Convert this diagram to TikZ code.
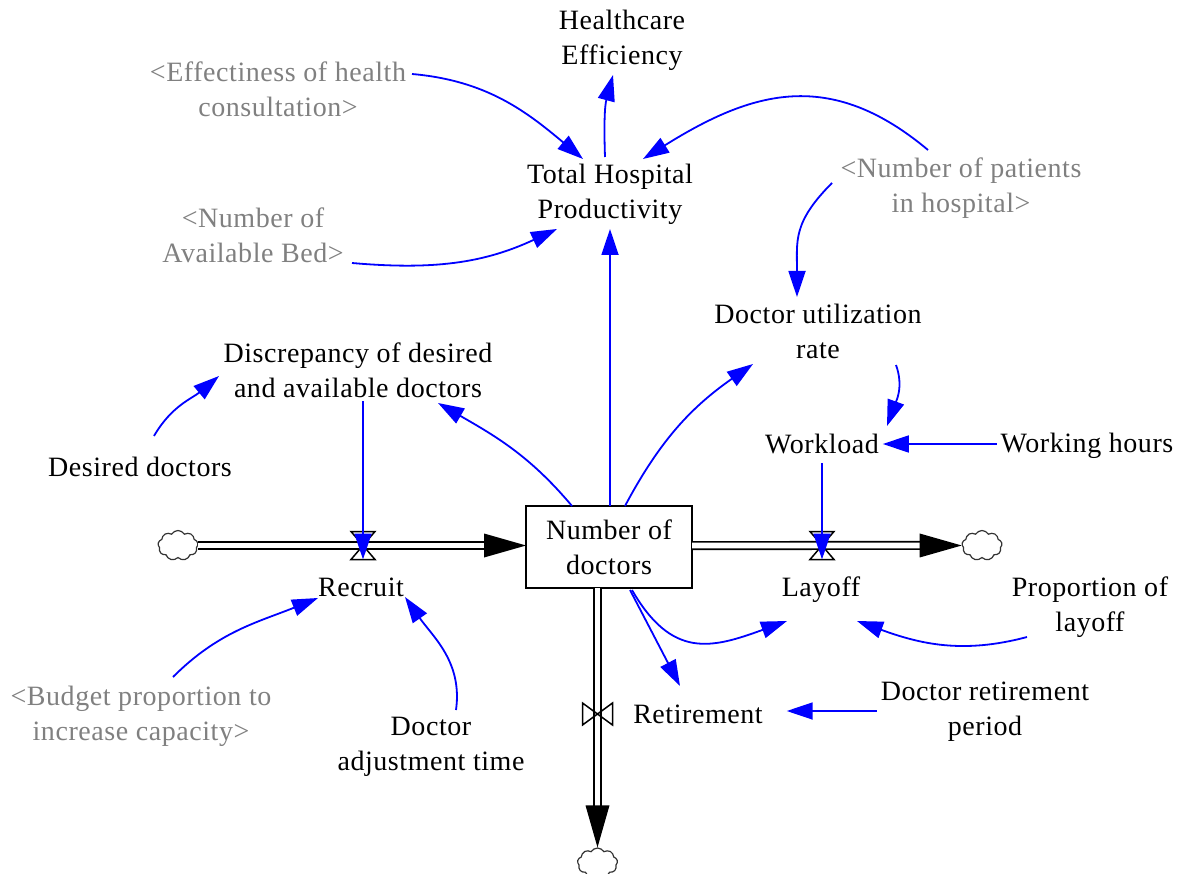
\documentclass[tikz,border=0pt]{standalone}
\usepackage{fontspec}
\setmainfont[LetterSpace=2]{Liberation Serif}
\usetikzlibrary{arrows.meta,shapes.symbols,calc}
\definecolor{linkblue}{RGB}{0,0,255}
\definecolor{shadowgrey}{RGB}{128,128,128}

\begin{document}
\begin{tikzpicture}[x=1pt,y=-1pt,
  var/.style={font=\fontsize{28}{35}\selectfont, align=center, inner sep=0pt, outer sep=4pt},
  shadow/.style={var, text=shadowgrey},
  link/.style={draw=linkblue, line width=1.8pt, -{Triangle[length=26pt,width=17pt]}},
  pipe/.style={draw=black, line width=1.7pt, double=white, double distance=5.6pt},
  valve/.style={draw=black, line width=1.5pt, line join=miter},
  sink/.style={cloud, cloud puffs=9, cloud puff arc=120, aspect=1.35, minimum width=40pt,
    minimum height=30pt, inner sep=0pt, draw=black!80, line width=1.2pt},
  stock/.style={var, draw, line width=1.5pt, minimum width=166pt, minimum height=82pt, outer sep=0pt}
]
\useasboundingbox (0,0) rectangle (1184,874);
\clip (0,0) rectangle (1184,874);

% variables
\node[var] (he) at (622,40) {Healthcare\\Efficiency};
\node[var] (thp) at (610,194) {Total Hospital\\Productivity};
\node[shadow] (eff) at (278,89) {<Effectiness of health\\consultation>};
\node[shadow] (bed) at (253,235) {<Number of\\Available Bed>};
\node[shadow] (pat) at (961,188) {<Number of patients\\in hospital>};
\node[var] (util) at (818,331) {Doctor utilization\\rate};
\node[var] (disc) at (358,370) {Discrepancy of desired\\and available doctors};
\node[var] (des) at (140,467) {Desired doctors};
\node[var] (work) at (822,444) {Workload};
\node[var] (hours) at (1087,446) {Working hours};
\node[stock] (stock) at (609,547) {Number of\\doctors};
\node[var] (rec) at (361,587) {Recruit};
\node[var] (lay) at (821,590) {Layoff};
\node[var] (prop) at (1090,607) {Proportion of\\layoff};
\node[var] (ret) at (698,714) {Retirement};
\node[var] (retp) at (985,712) {Doctor retirement\\period};
\node[shadow] (bud) at (141,716) {<Budget proportion to\\increase capacity>};
\node[var] (adj) at (431,747) {Doctor\\adjustment time};

% sources and sinks
\node[sink] (cL) at (178,545.5) {};
\node[sink] (cR) at (982,545.5) {};
\node[sink] (cB) at (597.5,863) {};

% valves
\coordinate (vR) at (363,545.5);
\coordinate (vL) at (822,545.5);
\coordinate (vT) at (597.5,714);

% flow pipes
\draw[pipe] (cL.east) -- ($(stock.west |- cL)+(-40,0)$);
\fill (stock.west |- cL) -- ++(-42,-12) -- ++(0,24) -- cycle;
\draw[pipe] (stock.east |- cR) -- ($(cR.west)+(-40,0)$);
\fill (cR.west) -- ++(-42,-12) -- ++(0,24) -- cycle;
\draw[pipe] (cB |- stock.south) -- ($(cB.north)+(0,-40)$);
\fill (cB.north) -- ++(-12,-42) -- ++(24,0) -- cycle;

\draw[valve] ($(vR)+(-12,-14)$) -- ($(vR)+(12,-14)$) -- ($(vR)+(-12,14)$) -- ($(vR)+(12,14)$) -- cycle;
\draw[valve] ($(vL)+(-12,-14)$) -- ($(vL)+(12,-14)$) -- ($(vL)+(-12,14)$) -- ($(vL)+(12,14)$) -- cycle;
\draw[valve] ($(vT)+(-15,-11)$) -- ($(vT)+(-15,11)$) -- ($(vT)+(15,-11)$) -- ($(vT)+(15,11)$) -- cycle;

% causal links
\draw[link] ($(thp)+(-5,-37)$) to[out=92,in=-105] ($(he)+(-9,35)$);
\draw[link] ($(eff)+(134,-15)$) to[out=-5,in=140] ($(thp)+(-27,-35)$);
\draw[link] ($(pat)+(-33,-38)$) to[out=140,in=32,looseness=1.15] ($(thp)+(33,-35)$);
\draw[link] ($(bed)+(99,28)$) to[out=-5,in=-155] ($(thp)+(-53,35)$);
\draw[link] ($(pat)+(-129,-5)$) to[out=-135,in=90,looseness=1.2] ($(util)+(-21,-34)$);
\draw[link] (stock.north -| thp) -- ($(thp)+(0,35)$);
\draw[link] ($(stock)+(-37,-41)$) to[out=130,in=-30] ($(disc)+(80,33)$);
\draw[link] ($(stock)+(16,-41)$) to[out=62,in=-145] ($(util)+(-65,33)$);
\draw[link] ($(des)+(14,-31)$) to[out=60,in=-140] ($(disc)+(-139,6)$);
\draw[link] (disc.south -| vR) -- ($(vR)+(0,14)$);
\draw[link] ($(util)+(78,34)$) to[out=-70,in=70] ($(work)+(65,-18)$);
\draw[link] (hours.west |- work.east) -- (work.east);
\draw[link, shorten <=5pt] (work.south -| vL) -- ($(vL)+(0,14)$);
\draw[link] ($(stock)+(23,43)$) to[out=-60,in=-160,looseness=1.3] ($(lay)+(-34,31)$);
\draw[link] ($(stock)+(21,43)$) -- ($(ret)+(-18,-28)$);
\draw[link] ($(prop)+(-63,30)$) to[out=-165,in=-20] ($(lay)+(36,31)$);
\draw[link] ($(retp.west)+(0,-1)$) -- ($(ret.east)+(20,-3)$);
\draw[link] ($(bud)+(32,-39)$) to[out=45,in=-158] ($(rec)+(-43,11)$);
\draw[link] ($(adj)+(25,-37)$) to[out=82,in=-55] ($(rec)+(44,10)$);
\end{tikzpicture}
\end{document}
